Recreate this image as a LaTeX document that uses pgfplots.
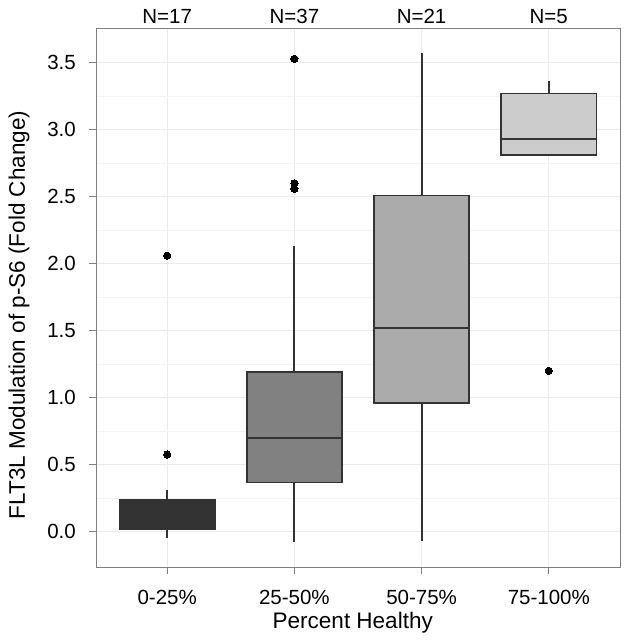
\documentclass[border=0pt]{standalone}
\usepackage{pgfplots}
\pgfplotsset{compat=1.18}
\usepgfplotslibrary{statistics}
\usepackage{fontspec}
\setmainfont{Liberation Sans}
\definecolor{edge}{HTML}{333333}
\definecolor{f1}{HTML}{333333}
\definecolor{f2}{HTML}{818181}
\definecolor{f3}{HTML}{ABABAB}
\definecolor{f4}{HTML}{CCCCCC}
\definecolor{gridmaj}{HTML}{EBEBEB}
\definecolor{gridmin}{HTML}{F4F4F4}
\definecolor{border}{HTML}{7F7F7F}
\begin{document}
\begin{tikzpicture}
\path[use as bounding box] (-96bp,-76bp) rectangle (533bp,567bp);
\begin{axis}[
  scale only axis, width=524bp, height=539bp,
  at={(0,0)}, anchor=south west,
  xmin=-0.56, xmax=3.56, ymin=-0.265, ymax=3.76,
  clip=false,
  xtick={0,1,2,3},
  xticklabels={0-25\%,25-50\%,50-75\%,75-100\%},
  ytick={0,0.5,1,1.5,2,2.5,3,3.5},
  minor ytick={0.25,0.75,1.25,1.75,2.25,2.75,3.25},
  grid=both,
  major grid style={color=gridmaj, line width=0.9bp},
  minor grid style={color=gridmin, line width=0.6bp},
  axis line style={color=border, line width=0.9bp},
  tick align=outside, xtick pos=bottom, ytick pos=left,
  major tick length=7bp, minor tick length=0pt,
  tick style={color=border, line width=0.9bp},
  ticklabel style={font=\fontsize{20.5bp}{24bp}\selectfont, text=black},
  xticklabel style={anchor=north, inner sep=0pt, yshift=-16bp},
  yticklabel style={anchor=east, inner sep=0pt, xshift=-13bp},
  /pgf/number format/fixed,
  /pgf/number format/fixed zerofill,
  /pgf/number format/precision=1,
  /pgf/number format/assume math mode=true,
  xlabel={Percent Healthy},
  ylabel={FLT3L Modulation of p-S6 (Fold Change)},
  label style={font=\fontsize{22.5bp}{26bp}\selectfont},
  xlabel style={at={(axis description cs:0.49,-0.1132)}, anchor=base},
  ylabel style={at={(axis description cs:-0.1355,0.4675)}, anchor=base},
  boxplot/draw direction=y,
  boxplot/whisker extend=0,
  boxplot/every whisker/.style={draw=edge, line width=2bp},
  boxplot/every box/.style={draw=edge, line width=1.6bp},
  boxplot/every median/.style={draw=edge, line width=1.6bp},
]
\addplot[boxplot prepared={lower whisker=-0.05, lower quartile=0.015, median=0.10, upper quartile=0.235, upper whisker=0.31, draw position=0, box extend=0.75},
  draw=edge, fill=f1, line width=1.6bp, mark=*, mark size=3.6bp, mark options={draw=black, fill=black, line width=0pt}]
  table[row sep=\\, y index=0] {data\\ 0.575\\ 2.06\\};
\addplot[boxplot prepared={lower whisker=-0.08, lower quartile=0.365, median=0.70, upper quartile=1.19, upper whisker=2.13, draw position=1, box extend=0.75},
  draw=edge, fill=f2, line width=1.6bp, mark=*, mark size=3.6bp, mark options={draw=black, fill=black, line width=0pt}]
  table[row sep=\\, y index=0] {data\\ 2.56\\ 2.60\\ 3.53\\};
\addplot[boxplot prepared={lower whisker=-0.07, lower quartile=0.96, median=1.52, upper quartile=2.51, upper whisker=3.575, draw position=2, box extend=0.75},
  draw=edge, fill=f3, line width=1.6bp, mark=none]
  coordinates {};
\addplot[boxplot prepared={lower whisker=2.81, lower quartile=2.81, median=2.93, upper quartile=3.27, upper whisker=3.365, draw position=3, box extend=0.75},
  draw=edge, fill=f4, line width=1.6bp, mark=*, mark size=3.6bp, mark options={draw=black, fill=black, line width=0pt}]
  table[row sep=\\, y index=0] {data\\ 1.20\\};
\node[anchor=base, font=\fontsize{20.5bp}{24bp}\selectfont] at (axis cs:0,3.76) [yshift=4.7bp] {N=17};
\node[anchor=base, font=\fontsize{20.5bp}{24bp}\selectfont] at (axis cs:1,3.76) [yshift=4.7bp] {N=37};
\node[anchor=base, font=\fontsize{20.5bp}{24bp}\selectfont] at (axis cs:2,3.76) [yshift=4.7bp] {N=21};
\node[anchor=base, font=\fontsize{20.5bp}{24bp}\selectfont] at (axis cs:3,3.76) [yshift=4.7bp] {N=5};
\end{axis}
\end{tikzpicture}
\end{document}
